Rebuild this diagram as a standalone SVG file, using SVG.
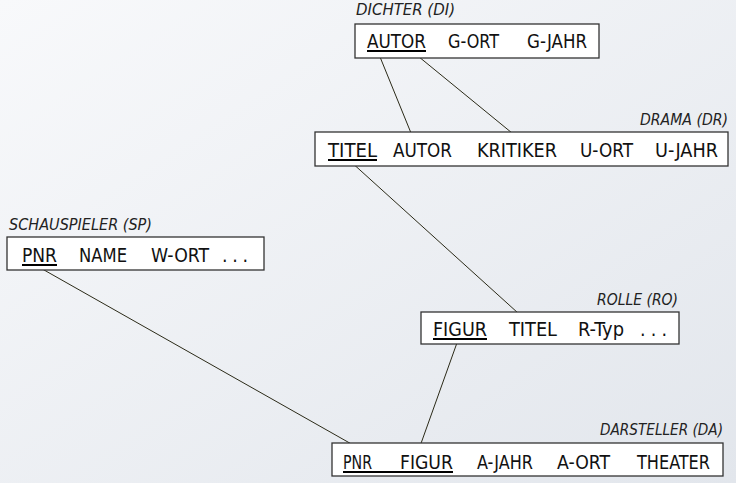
<svg xmlns="http://www.w3.org/2000/svg" width="736" height="483" viewBox="0 0 736 483">
<defs>
<linearGradient id="bg" x1="0" y1="0" x2="1" y2="1">
<stop offset="0" stop-color="#f8f9fb"/>
<stop offset="1" stop-color="#e2e6ec"/>
</linearGradient>
<style>
.box{fill:#ffffff;stroke:#333333;stroke-width:1.3}
.t{font-family:"DejaVu Sans Condensed","DejaVu Sans",sans-serif;font-size:19.5px;fill:#111111}
.lbl{font-family:"DejaVu Sans Condensed","DejaVu Sans",sans-serif;font-size:15.5px;font-style:italic;fill:#222222}
.ul{stroke:#000000;stroke-width:2}
.c{stroke:#2b2a18;stroke-width:1;fill:none}
</style>
</defs>
<rect width="736" height="483" fill="url(#bg)"/>
<g id="connectors">
<line class="c" x1="378" y1="52" x2="411" y2="133"/>
<line class="c" x1="413" y1="52" x2="512" y2="133"/>
<line class="c" x1="350" y1="161" x2="518" y2="313"/>
<line class="c" x1="37" y1="266" x2="362" y2="450"/>
<line class="c" x1="458" y1="340" x2="419" y2="449"/>
</g>
<g id="DI">
<text class="lbl" x="356" y="15" textLength="99" lengthAdjust="spacingAndGlyphs">DICHTER (DI)</text>
<rect class="box" x="355" y="24" width="244" height="34"/>
<text class="t" x="367" y="48" textLength="59" lengthAdjust="spacingAndGlyphs">AUTOR</text>
<line class="ul" x1="367" y1="51" x2="426" y2="51"/>
<text class="t" x="448" y="48" textLength="51" lengthAdjust="spacingAndGlyphs">G-ORT</text>
<text class="t" x="527" y="48" textLength="60" lengthAdjust="spacingAndGlyphs">G-JAHR</text>
</g>
<g id="DR">
<text class="lbl" x="728" y="125" text-anchor="end" textLength="88" lengthAdjust="spacingAndGlyphs">DRAMA (DR)</text>
<rect class="box" x="315" y="132" width="413" height="34"/>
<text class="t" x="328" y="157" textLength="49" lengthAdjust="spacingAndGlyphs">TITEL</text>
<line class="ul" x1="328" y1="160" x2="377" y2="160"/>
<text class="t" x="393" y="157" textLength="59" lengthAdjust="spacingAndGlyphs">AUTOR</text>
<text class="t" x="477" y="157" textLength="80" lengthAdjust="spacingAndGlyphs">KRITIKER</text>
<text class="t" x="580" y="157" textLength="53" lengthAdjust="spacingAndGlyphs">U-ORT</text>
<text class="t" x="655" y="157" textLength="63" lengthAdjust="spacingAndGlyphs">U-JAHR</text>
</g>
<g id="SP">
<text class="lbl" x="9" y="230" textLength="143" lengthAdjust="spacingAndGlyphs">SCHAUSPIELER (SP)</text>
<rect class="box" x="7" y="237" width="257" height="33"/>
<text class="t" x="22" y="262" textLength="35" lengthAdjust="spacingAndGlyphs">PNR</text>
<line class="ul" x1="22" y1="265" x2="57" y2="265"/>
<text class="t" x="79" y="262" textLength="48" lengthAdjust="spacingAndGlyphs">NAME</text>
<text class="t" x="151" y="262" textLength="58" lengthAdjust="spacingAndGlyphs">W-ORT</text>
<text class="t" x="222" y="262" textLength="26" lengthAdjust="spacing">. . .</text>
</g>
<g id="RO">
<text class="lbl" x="678" y="305" text-anchor="end" textLength="81" lengthAdjust="spacingAndGlyphs">ROLLE (RO)</text>
<rect class="box" x="421" y="312" width="258" height="32"/>
<text class="t" x="433" y="336" textLength="54" lengthAdjust="spacingAndGlyphs">FIGUR</text>
<line class="ul" x1="433" y1="339" x2="487" y2="339"/>
<text class="t" x="509" y="336" textLength="48" lengthAdjust="spacingAndGlyphs">TITEL</text>
<text class="t" x="578" y="336" textLength="46" lengthAdjust="spacingAndGlyphs">R-Typ</text>
<text class="t" x="640" y="336" textLength="27" lengthAdjust="spacing">. . .</text>
</g>
<g id="DA">
<text class="lbl" x="723" y="435" text-anchor="end" textLength="123" lengthAdjust="spacingAndGlyphs">DARSTELLER (DA)</text>
<rect class="box" x="332" y="443" width="391" height="33"/>
<text class="t" x="343" y="469" textLength="29" lengthAdjust="spacingAndGlyphs">PNR</text>
<text class="t" x="400" y="469" textLength="53" lengthAdjust="spacingAndGlyphs">FIGUR</text>
<line class="ul" x1="343" y1="472" x2="453" y2="472"/>
<text class="t" x="477" y="469" textLength="56" lengthAdjust="spacingAndGlyphs">A-JAHR</text>
<text class="t" x="557" y="469" textLength="53" lengthAdjust="spacingAndGlyphs">A-ORT</text>
<text class="t" x="637" y="469" textLength="73" lengthAdjust="spacingAndGlyphs">THEATER</text>
</g>
</svg>
